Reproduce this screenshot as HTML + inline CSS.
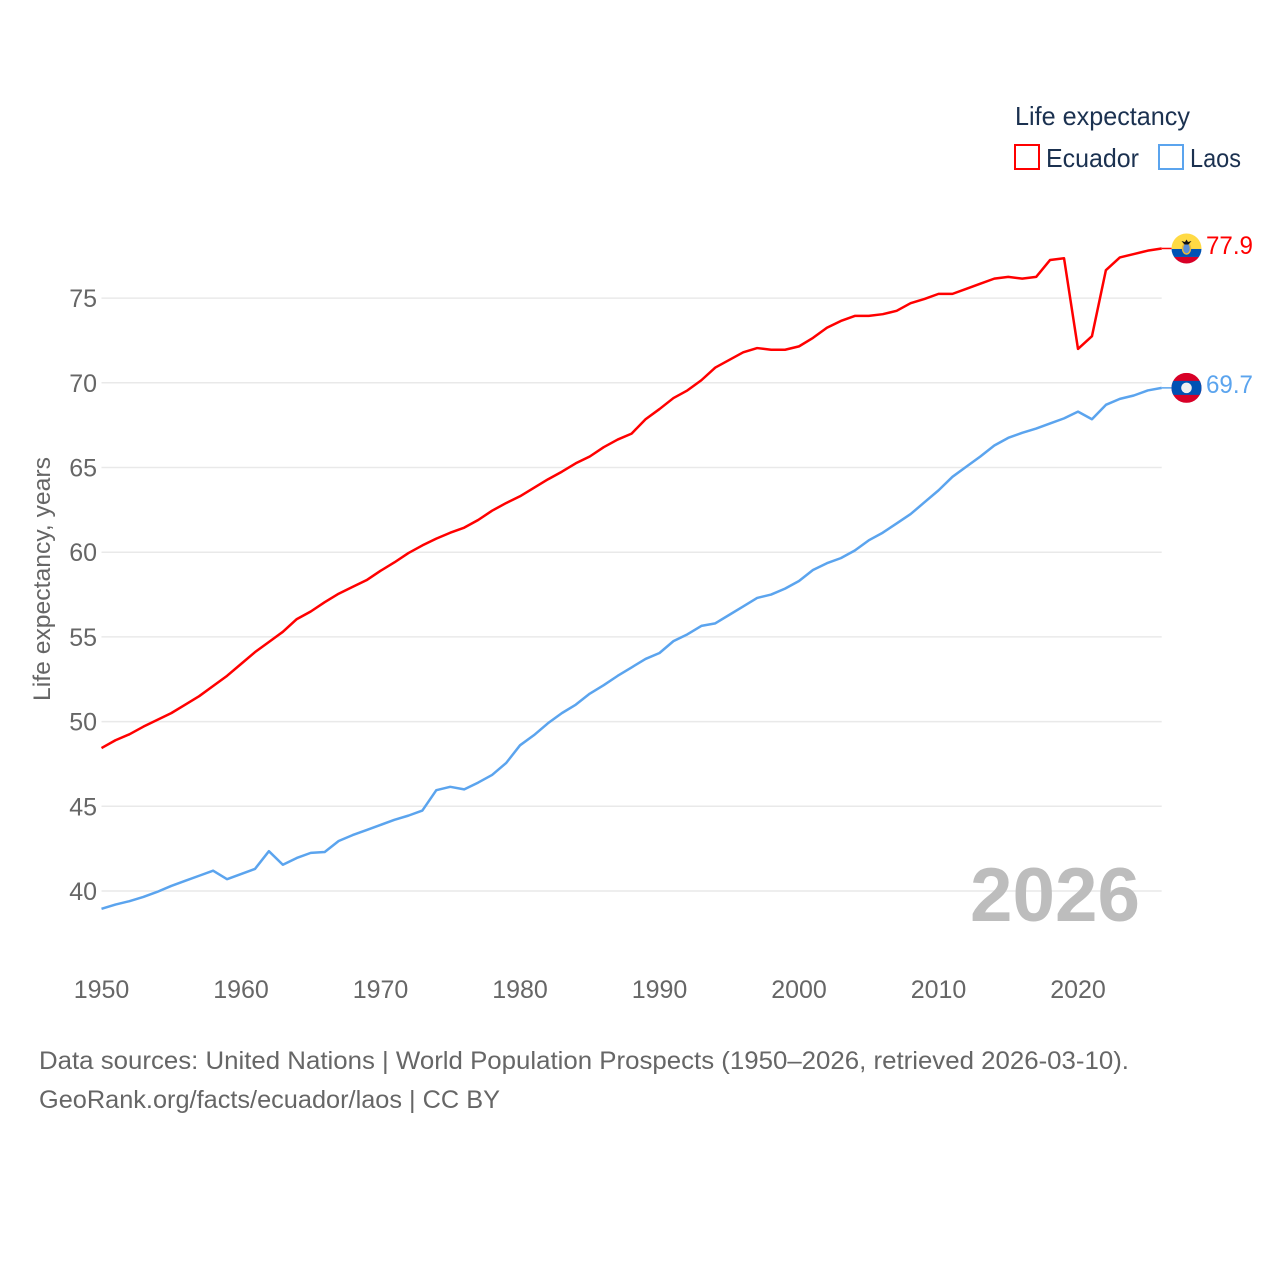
<!DOCTYPE html>
<html lang="en">
<head>
<meta charset="utf-8">
<title>Life expectancy: Ecuador and Laos</title>
<style>
html,body{margin:0;padding:0;background:#fff;width:1280px;height:1280px;overflow:hidden}
svg{display:block;font-family:"Liberation Sans",sans-serif}
</style>
</head>
<body>
<svg id="chart" width="1280" height="1280" viewBox="0 0 1280 1280" xmlns="http://www.w3.org/2000/svg">
  <rect width="1280" height="1280" fill="#fff"/>
  <g id="grid"></g>
  <g id="yticks"></g>
  <g id="xticks"></g>
  <g id="series"></g>
  <g id="endpoints"></g>

  <text transform="translate(50,701) rotate(-90)" font-size="24" fill="#666" textLength="244" lengthAdjust="spacingAndGlyphs">Life expectancy, years</text>

  <g>
    <text x="1015" y="125" font-size="26" fill="#1b3150" textLength="175" lengthAdjust="spacingAndGlyphs">Life expectancy</text>
    <rect x="1015" y="145" width="24" height="24" fill="none" stroke="#ff0000" stroke-width="2"/>
    <text x="1046" y="167" font-size="26" fill="#1b3150" textLength="93" lengthAdjust="spacingAndGlyphs">Ecuador</text>
    <rect x="1159" y="145" width="24" height="24" fill="none" stroke="#5ba4ee" stroke-width="2"/>
    <text x="1190" y="167" font-size="26" fill="#1b3150" textLength="51" lengthAdjust="spacingAndGlyphs">Laos</text>
  </g>

  <text x="970" y="921" font-size="76" font-weight="700" fill="#bdbdbd" textLength="170" lengthAdjust="spacingAndGlyphs">2026</text>

  <text x="39" y="1069" font-size="25" fill="#666" textLength="1090" lengthAdjust="spacingAndGlyphs">Data sources: United Nations | World Population Prospects (1950–2026, retrieved 2026-03-10).</text>
  <text x="39" y="1108" font-size="25" fill="#666" textLength="461" lengthAdjust="spacingAndGlyphs">GeoRank.org/facts/ecuador/laos | CC BY</text>
</svg>

<script>
const firstYear = 1950;
const ecuadorValues = [48.44,48.9,49.25,49.7,50.1,50.5,51,51.5,52.1,52.7,53.4,54.1,54.7,55.3,56.05,56.5,57.05,57.55,57.95,58.35,58.9,59.4,59.95,60.4,60.8,61.15,61.45,61.9,62.45,62.9,63.3,63.8,64.3,64.75,65.25,65.65,66.2,66.65,67,67.85,68.45,69.1,69.55,70.15,70.9,71.35,71.8,72.05,71.95,71.95,72.15,72.65,73.25,73.65,73.95,73.95,74.05,74.25,74.7,74.95,75.25,75.25,75.55,75.85,76.15,76.25,76.15,76.25,77.25,77.35,72.0,72.75,76.65,77.4,77.6,77.8,77.93];
const laosValues = [38.95,39.2,39.4,39.65,39.95,40.3,40.6,40.9,41.2,40.7,41.0,41.3,42.35,41.55,41.95,42.25,42.3,42.95,43.3,43.6,43.9,44.2,44.45,44.75,45.95,46.15,46.0,46.4,46.85,47.55,48.6,49.2,49.9,50.5,51,51.65,52.15,52.7,53.2,53.7,54.05,54.75,55.15,55.65,55.8,56.3,56.8,57.3,57.5,57.85,58.3,58.95,59.35,59.65,60.1,60.7,61.15,61.7,62.25,62.95,63.65,64.45,65.05,65.65,66.3,66.75,67.05,67.3,67.6,67.9,68.3,67.85,68.7,69.05,69.25,69.55,69.7];
const yTickLabels = [40,45,50,55,60,65,70,75];
const xTickLabels = [1950,1960,1970,1980,1990,2000,2010,2020];

const NS = 'http://www.w3.org/2000/svg';
function xScale(year){ return 101.5 + (year - 1950) * 13.95; }
function yScale(v){ return 891 - (v - 40) * 16.94; }
function make(tag, attrs, parent){
  const el = document.createElementNS(NS, tag);
  for (const k in attrs) el.setAttribute(k, attrs[k]);
  parent.appendChild(el);
  return el;
}

const grid = document.getElementById('grid');
const yticks = document.getElementById('yticks');
const xticks = document.getElementById('xticks');
const series = document.getElementById('series');
const endpoints = document.getElementById('endpoints');
const lastYear = firstYear + ecuadorValues.length - 1;

yTickLabels.forEach(function(t){
  const line = make('line', {x1:xScale(firstYear), x2:xScale(lastYear), y1:yScale(t), y2:yScale(t), stroke:'#e9e9e9', 'stroke-width':1.5}, grid);
  
  
  const label = make('text', {x:97, y:yScale(t) + 9, 'text-anchor':'end', 'font-size':25, fill:'#666'}, yticks);
  
  
  label.textContent = t;
});

xTickLabels.forEach(function(t){
  const label = make('text', {x:xScale(t), y:998, 'text-anchor':'middle', 'font-size':25, fill:'#666'}, xticks);
  
  
  label.textContent = t;
});

function pathFor(values){
  return values.map(function(v, i){
    return (i ? 'L' : 'M') + xScale(firstYear + i).toFixed(2) + ' ' + yScale(v).toFixed(2);
  }).join('');
}

const ecuadorLine = make('path', {d:pathFor(ecuadorValues), fill:'none', stroke:'#ff0000', 'stroke-width':2.5, 'stroke-linejoin':'round'}, series);


const laosLine = make('path', {d:pathFor(laosValues), fill:'none', stroke:'#5ba4ee', 'stroke-width':2.5, 'stroke-linejoin':'round'}, series);



function endParts(values, color){
  const v = values[values.length - 1];
  const y = yScale(v);
  const g = make('g', {transform:'translate(1186.5,' + y.toFixed(2) + ')'}, endpoints);
  make('line', {x1:xScale(lastYear) - 1186.5, x2:-15, y1:0, y2:0, stroke:color, 'stroke-width':1.5}, g);
  return {g:g, v:v, y:y};
}

const clip = make('clipPath', {id:'flag-clip'}, document.getElementById('chart'));
make('circle', {cx:0, cy:0, r:15}, clip);

/* Ecuador marker */
const ec = endParts(ecuadorValues, '#ff0000');


const ecFlag = make('g', {'clip-path':'url(#flag-clip)'}, ec.g);


make('rect', {x:-15, y:-15, width:30, height:15.5, fill:'#ffda44'}, ecFlag);
make('rect', {x:-15, y:0.5, width:30, height:8, fill:'#0052b4'}, ecFlag);
make('rect', {x:-15, y:8.5, width:30, height:7, fill:'#d80027'}, ecFlag);
make('ellipse', {cx:0, cy:0, rx:4, ry:5.5, fill:'#5a8fd8', stroke:'#e8b93a', 'stroke-width':1.5}, ecFlag);
make('path', {d:'M-5 -7.5 L-1.5 -6.5 L0 -9 L1.5 -6.5 L5 -7.5 L2 -4 L-2 -4 Z', fill:'#111'}, ecFlag);
const ecLabel = make('text', {x:1206, y:ec.y + 5.5, 'font-size':25, fill:'#ff0000', textLength:47, lengthAdjust:'spacingAndGlyphs'}, endpoints);


ecLabel.textContent = ec.v.toFixed(1);

/* Laos marker */
const la = endParts(laosValues, '#5ba4ee');


const laFlag = make('g', {'clip-path':'url(#flag-clip)'}, la.g);


make('rect', {x:-15, y:-15, width:30, height:30, fill:'#d80027'}, laFlag);
make('rect', {x:-15, y:-7, width:30, height:14, fill:'#0052b4'}, laFlag);
make('circle', {cx:0, cy:0, r:5.3, fill:'#f0f0f0'}, laFlag);
const laLabel = make('text', {x:1206, y:la.y + 5, 'font-size':25, fill:'#5ba4ee', textLength:47, lengthAdjust:'spacingAndGlyphs'}, endpoints);


laLabel.textContent = la.v.toFixed(1);
</script>
</body>
</html>
